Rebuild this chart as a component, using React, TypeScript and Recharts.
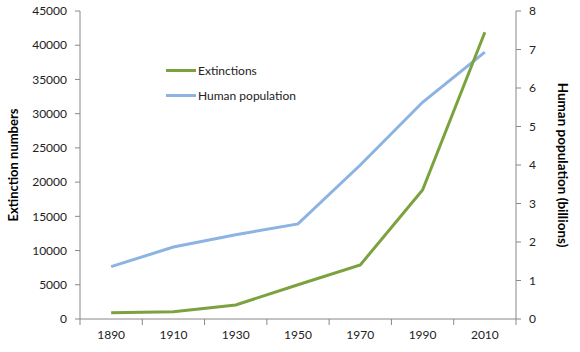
import { LineChart, Line, XAxis, YAxis, Legend } from 'recharts';

const years = [1890, 1910, 1930, 1950, 1970, 1990, 2010];
const extinctions = [900, 1050, 2050, 5000, 7900, 18850, 41900];
const population = [1.36, 1.87, 2.19, 2.47, 4.0, 5.63, 6.93];
const leftTicks = [0, 5000, 10000, 15000, 20000, 25000, 30000, 35000, 40000, 45000];
const rightTicks = [0, 1, 2, 3, 4, 5, 6, 7, 8];
// boundary ticks between categories, labels on the years themselves
const xTicks = [1880, 1890, 1900, 1910, 1920, 1930, 1940, 1950, 1960, 1970, 1980, 1990, 2000, 2010, 2020];

const data = years.map((y, i) => ({ year: y, extinctions: extinctions[i], population: population[i] }));

const GREEN = '#7BA23F';
const BLUE = '#8DB3E2';
const AXIS = '#888888';
const FONT = 'Lato, "Open Sans", sans-serif';

const XTick = (props: any) => {
    const { x, y, payload } = props;
    const isLabel = years.includes(payload.value);
    if (isLabel) {
        return (
            <text x={x} y={y} dy="0.71em" textAnchor="middle" fontSize={12} fill="#222" fontFamily={FONT}>
                {payload.value}
            </text>
        );
    }
    // y arrives below tickSize + tickMargin, walk back to the axis
    const top = y - 11;
    return <line x1={x} x2={x} y1={top} y2={top + 6} stroke={AXIS} strokeWidth={1} />;
};

const LegendBox = () => (
    <div style={{ fontFamily: FONT, fontSize: 12, color: '#222' }}>
        {[
            { name: 'Extinctions', color: GREEN },
            { name: 'Human population', color: BLUE },
        ].map((item) => (
            <div key={item.name} style={{ display: 'flex', alignItems: 'center', height: 25 }}>
                <div style={{ width: 30, height: 3, backgroundColor: item.color, marginRight: 2 }}></div>
                {item.name}
            </div>
        ))}
    </div>
);

const LeftTitle = (props: any) => {
    const { viewBox } = props;
    const cy = viewBox.y + viewBox.height / 2;
    return (
        <text x={18} y={cy} transform={`rotate(-90, 18, ${cy})`} textAnchor="middle" fontSize={13} fontWeight="bold" fill="#000" fontFamily={FONT}>
            Extinction numbers
        </text>
    );
};

const RightTitle = (props: any) => {
    const { viewBox } = props;
    const cy = viewBox.y + viewBox.height / 2;
    return (
        <text x={558} y={cy} transform={`rotate(90, 558, ${cy})`} textAnchor="middle" fontSize={13.5} fontWeight="bold" fill="#000" fontFamily={FONT}>
            Human population (billions)
        </text>
    );
};

export default function App() {
    return (
        <div style={{ position: 'absolute', left: 0, top: 0, width: 580, height: 352, background: '#fff' }}>
            <LineChart width={580} height={352} data={data} margin={{ top: 11, right: 0, bottom: 0, left: 0 }}>
                <XAxis
                    dataKey="year"
                    type="number"
                    domain={[1880, 2020]}
                    ticks={xTicks}
                    interval={0}
                    height={33}
                    tickLine={false}
                    tickSize={6}
                    tickMargin={5}
                    stroke={AXIS}
                    tick={<XTick />}
                />
                <YAxis
                    yAxisId="left"
                    domain={[0, 45000]}
                    ticks={leftTicks}
                    interval={0}
                    width={80}
                    tickSize={5}
                    tickMargin={8}
                    stroke={AXIS}
                    tick={{ fill: '#222', fontSize: 12, fontFamily: FONT }}
                    label={<LeftTitle />}
                />
                <YAxis
                    yAxisId="right"
                    orientation="right"
                    domain={[0, 8]}
                    ticks={rightTicks}
                    interval={0}
                    width={64}
                    tickSize={5}
                    tickMargin={8}
                    stroke={AXIS}
                    tick={{ fill: '#222', fontSize: 12, fontFamily: FONT, textAnchor: 'start' }}
                    label={<RightTitle />}
                />
                <Legend
                    layout="horizontal"
                    verticalAlign="middle"
                    align="center"
                    wrapperStyle={{ left: 166, top: 58, width: 'auto' }}
                    content={<LegendBox />}
                />
                <Line yAxisId="right" type="linear" dataKey="population" stroke={BLUE} strokeWidth={3} dot={false} isAnimationActive={false} />
                <Line yAxisId="left" type="linear" dataKey="extinctions" stroke={GREEN} strokeWidth={3} dot={false} isAnimationActive={false} />
            </LineChart>
        </div>
    );
}
